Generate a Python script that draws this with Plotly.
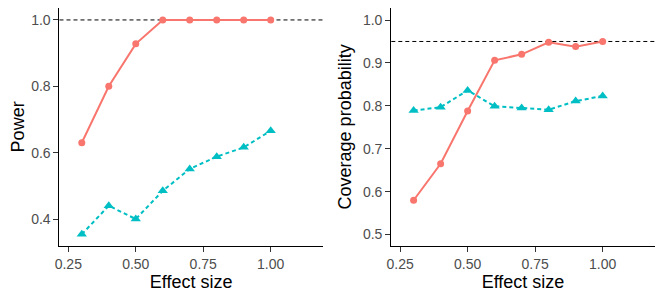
import plotly.graph_objects as go

effect_size = [0.3, 0.4, 0.5, 0.6, 0.7, 0.8, 0.9, 1.0]
power_red = [0.63, 0.80, 0.928, 1.0, 1.0, 1.0, 1.0, 1.0]
power_blue = [0.354, 0.44, 0.40, 0.485, 0.551, 0.588, 0.616, 0.666]
cover_red = [0.58, 0.665, 0.788, 0.906, 0.92, 0.948, 0.938, 0.95]
cover_blue = [0.789, 0.797, 0.836, 0.799, 0.795, 0.791, 0.811, 0.823]
x_ticks = [0.25, 0.50, 0.75, 1.00]
x_tick_labels = ["0.25", "0.50", "0.75", "1.00"]
power_ticks = [0.4, 0.6, 0.8, 1.0]
cover_ticks = [0.5, 0.6, 0.7, 0.8, 0.9, 1.0]
power_ref = 1.0
cover_ref = 0.95

RED = "#F8766D"
BLUE = "#00BFC4"
FONT = "Liberation Sans, Arial, sans-serif"

fig = go.Figure()

def add_pair(red, blue, xa, ya):
    fig.add_trace(go.Scatter(x=effect_size, y=red, mode="lines+markers",
                             line=dict(color=RED, width=2),
                             marker=dict(symbol="circle", size=7, color=RED),
                             xaxis=xa, yaxis=ya, showlegend=False, cliponaxis=False))
    fig.add_trace(go.Scatter(x=effect_size, y=blue, mode="lines+markers",
                             line=dict(color=BLUE, width=2, dash="4px,3px"),
                             marker=dict(symbol="triangle-up", size=9, color=BLUE),
                             xaxis=xa, yaxis=ya, showlegend=False, cliponaxis=False))

add_pair(power_red, power_blue, "x", "y")
add_pair(cover_red, cover_blue, "x2", "y2")

ydom = [0.183, 1.0]
common_x = dict(range=[0.2174, 1.1926], tickvals=x_ticks, ticktext=x_tick_labels,
                showline=True, linecolor="black", linewidth=1.2, ticks="outside",
                ticklen=5, tickcolor="#333333", showgrid=False, zeroline=False,
                automargin=False,
                tickfont=dict(family=FONT, size=14, color="#4D4D4D"),
                title=dict(text="Effect size", font=dict(family=FONT, size=18, color="black"), standoff=4))
common_y = dict(showline=True, linecolor="black", linewidth=1.2, ticks="outside",
                ticklen=5, tickcolor="#333333", showgrid=False, zeroline=False,
                automargin=False,
                tickfont=dict(family=FONT, size=14, color="#4D4D4D"), domain=ydom)

fig.update_layout(
    width=656, height=291,
    margin=dict(l=0, r=0, t=0, b=0),
    plot_bgcolor="white", paper_bgcolor="white",
    xaxis=dict(domain=[0.0785, 0.4797], anchor="y", **common_x),
    xaxis2=dict(domain=[0.5843, 0.9858], anchor="y2", **common_x),
    yaxis=dict(anchor="x", range=[0.3195, 1.036], tickvals=power_ticks,
               ticktext=[f"{v:.1f}" for v in power_ticks],
               title=dict(text="Power", font=dict(family=FONT, size=18, color="black"), standoff=6),
               **common_y),
    yaxis2=dict(anchor="x2", range=[0.474, 1.028], tickvals=cover_ticks,
                ticktext=[f"{v:.1f}" for v in cover_ticks],
                title=dict(text="Coverage probability", font=dict(family=FONT, size=18, color="black"), standoff=6),
                **common_y),
)

fig.add_shape(type="line", xref="x domain", yref="y", x0=0, x1=1, y0=power_ref, y1=power_ref,
              line=dict(color="black", width=1, dash="4px,3px"), layer="below")
fig.add_shape(type="line", xref="x2 domain", yref="y2", x0=0, x1=1, y0=cover_ref, y1=cover_ref,
              line=dict(color="black", width=1, dash="4px,3px"), layer="below")

fig.write_html("out.html")
